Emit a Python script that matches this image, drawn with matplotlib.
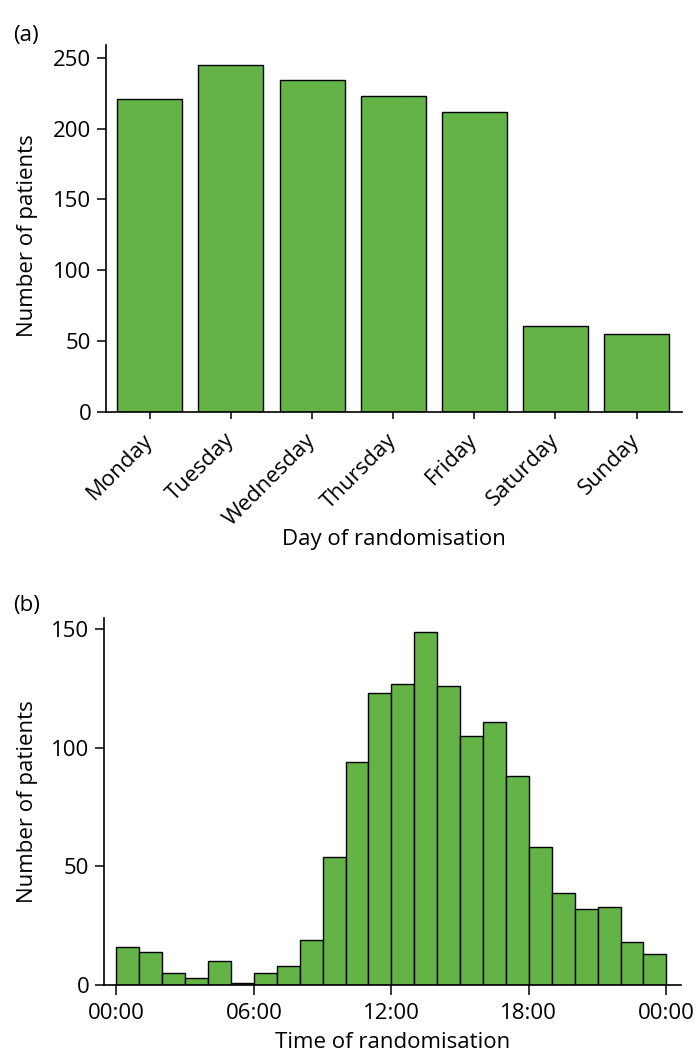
import numpy as np
import matplotlib.pyplot as plt

plt.rcParams['font.family'] = ['Open Sans', 'DejaVu Sans']

# (a) patients by day of randomisation
days = ['Monday', 'Tuesday', 'Wednesday', 'Thursday', 'Friday', 'Saturday', 'Sunday']
day_counts = [221, 245, 234, 223, 212, 61, 55]

# (b) patients by hour of randomisation (1-hour bins from 00:00)
hour_starts = np.arange(24)
hour_counts = [16, 14, 5, 3, 10, 1, 5, 8, 19, 54, 94, 123,
               127, 149, 126, 105, 111, 88, 58, 39, 32, 33, 18, 13]
time_ticks = [0, 6, 12, 18, 24]
time_labels = ['00:00', '06:00', '12:00', '18:00', '00:00']

green = '#63b347'
fs = 16

fig = plt.figure(figsize=(6.97, 10.53), dpi=100)
W, H = 697, 1053

def add_axes(left, top, right, bottom):
    return fig.add_axes([left / W, 1 - bottom / H, (right - left) / W, (bottom - top) / H])

def style(ax):
    for s in ['top', 'right']:
        ax.spines[s].set_visible(False)
    for s in ['left', 'bottom']:
        ax.spines[s].set_linewidth(1.2)
    ax.tick_params(axis='y', length=6.5, width=1.1, labelsize=fs, pad=4)
    ax.tick_params(axis='x', length=5, width=1.1, labelsize=fs)

# panel a
ax1 = add_axes(106, 45, 682, 412)
x = np.arange(len(days))
ax1.bar(x, day_counts, width=0.8, color=green, edgecolor='black', linewidth=1.0)
ax1.set_xlim(-0.54, 6.56)
ax1.set_ylim(0, 259)
ax1.set_yticks([0, 50, 100, 150, 200, 250])
ax1.set_xticks(x)
ax1.set_xticklabels(days, rotation=45, ha='right', va='center', rotation_mode='anchor')
style(ax1)
ax1.tick_params(axis='x', pad=13)
ax1.set_ylabel('Number of patients', fontsize=fs)
ax1.set_xlabel('Day of randomisation', fontsize=fs)
ax1.xaxis.set_label_coords(0.5, -0.318)
ax1.yaxis.set_label_coords(-0.118, 0.48)
fig.text(13 / W, 1 - 25 / H, '(a)', fontsize=fs, va='top')

# panel b
ax2 = add_axes(104, 618, 681, 985)
ax2.bar(hour_starts, hour_counts, width=1.0, align='edge', color=green,
        edgecolor='black', linewidth=1.0)
ax2.set_xlim(-0.54, 24.64)
ax2.set_ylim(0, 154.8)
ax2.set_yticks([0, 50, 100, 150])
ax2.set_xticks(time_ticks)
ax2.set_xticklabels(time_labels)
style(ax2)
ax2.tick_params(axis='x', length=7, pad=6)
ax2.set_ylabel('Number of patients', fontsize=fs)
ax2.set_xlabel('Time of randomisation', fontsize=fs)
ax2.xaxis.set_label_coords(0.5, -0.128)
ax2.yaxis.set_label_coords(-0.114, 0.5)
fig.text(13 / W, 1 - 595 / H, '(b)', fontsize=fs, va='top')

fig.savefig('out.png', dpi=100)
